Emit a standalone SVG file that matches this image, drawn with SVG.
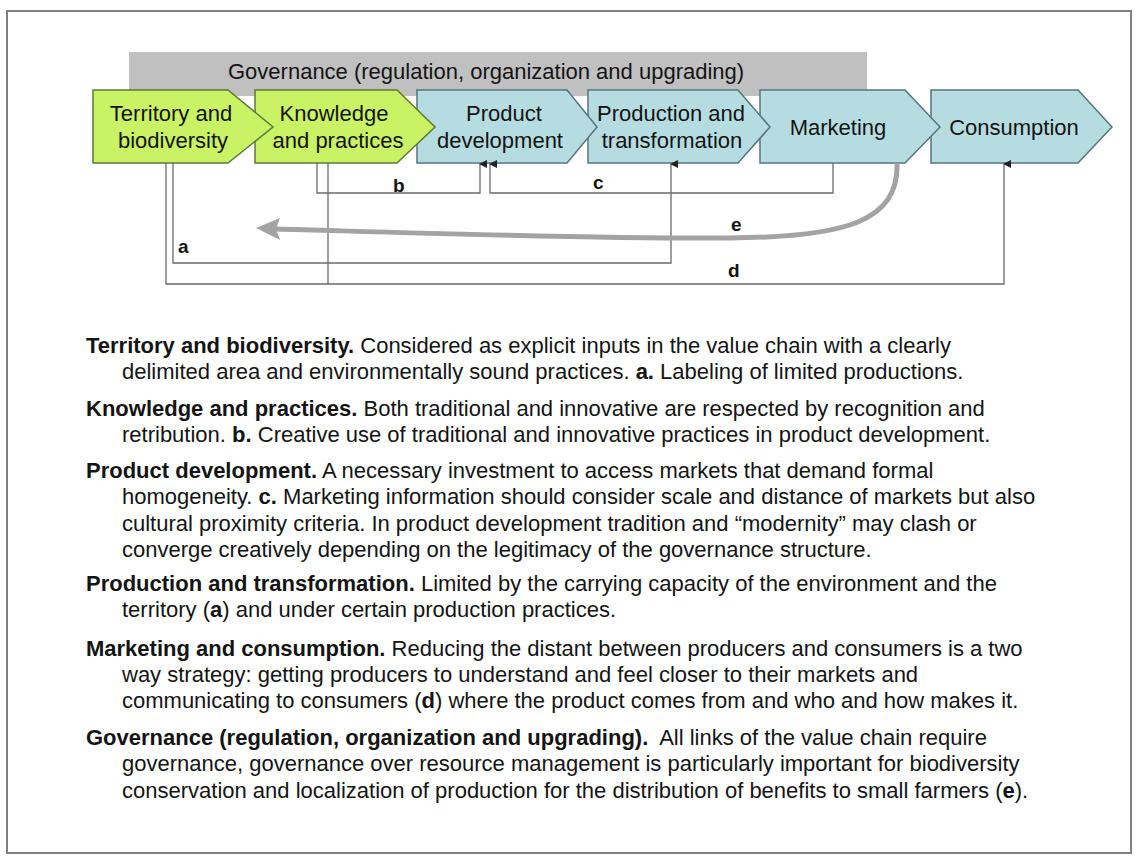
<svg xmlns="http://www.w3.org/2000/svg" width="1138" height="862" viewBox="0 0 1138 862">
<style>
text{font-family:"Liberation Sans",Arial,sans-serif;fill:#141414}
.box{font-size:22px;text-anchor:middle}
.g{fill:#c9f265;stroke:#5d7838;stroke-width:1.5}
.bl{fill:#b5dde1;stroke:#56757c;stroke-width:1.5}
.ln{fill:none;stroke:#6a6a6a;stroke-width:1.3}
.lbl{font-size:19px;font-weight:bold}
.p{font-size:22px}
.b{font-weight:bold}
</style>
<defs>
<marker id="ah" markerUnits="userSpaceOnUse" markerWidth="8" markerHeight="9" refX="4" refY="1" orient="auto-start-reverse" viewBox="0 0 8 9">
<path d="M4 0 L8 8 L0 8 Z" fill="#222"/>
</marker>
</defs>
<rect x="0" y="0" width="1138" height="862" fill="#fff"/>
<rect x="7" y="11" width="1124" height="842" fill="none" stroke="#7f7f7f" stroke-width="2"/>

<g id="governance-bar">
<rect x="129" y="52" width="738" height="44" fill="#c0c0c0"/>
<text x="228" y="79" style="font-size:22px">Governance (regulation, organization and upgrading)</text>
</g>

<g id="consumption">
<polygon class="bl" points="931,90 1078,90 1112,127 1078,163 931,163"/>
<text class="box" x="1014" y="135">Consumption</text>
</g>
<g id="marketing">
<polygon class="bl" points="760,90 905,90 940,127 905,163 760,163"/>
<text class="box" x="838" y="135">Marketing</text>
</g>
<g id="production">
<polygon class="bl" points="588,90 738,90 770,127 738,163 588,163"/>
<text class="box" x="671" y="121">Production and</text>
<text class="box" x="672" y="148">transformation</text>
</g>
<g id="product-development">
<polygon class="bl" points="417,90 567,90 597,127 567,163 417,163"/>
<text class="box" x="504" y="121">Product</text>
<text class="box" x="500" y="148">development</text>
</g>
<g id="knowledge">
<polygon class="g" points="255,90 397,90 435,127 397,163 255,163"/>
<text class="box" x="334" y="121">Knowledge</text>
<text class="box" x="338" y="148">and practices</text>
</g>
<g id="territory">
<polygon class="g" points="93,90 228,90 273,127 228,163 93,163"/>
<text class="box" x="171" y="121">Territory and</text>
<text class="box" x="173" y="148">biodiversity</text>
</g>

<g id="connectors">
<path class="ln" d="M173 163 V263 H671 V164" stroke="#8a8a8a" marker-end="url(#ah)"/>
<path class="ln" d="M166 163 V284 H1004 V164" marker-end="url(#ah)"/>
<path class="ln" d="M328 163 V284"/>
<path class="ln" d="M317 163 V193 H480 V164" marker-end="url(#ah)"/>
<path class="ln" d="M833 163 V193 H490 V164" marker-end="url(#ah)"/>
<path d="M897 163 C899 222 845 237 730 238 C600 239 420 233 276 229" fill="none" stroke="#a3a3a3" stroke-width="5"/>
<polygon points="256,228 280,218 276,229 280,240" fill="#a3a3a3"/>
<text class="lbl" x="178" y="253">a</text>
<text class="lbl" x="393" y="192">b</text>
<text class="lbl" x="593" y="189">c</text>
<text class="lbl" x="728" y="277">d</text>
<text class="lbl" x="731" y="231">e</text>
</g>

<g id="descriptions" class="p">
<text x="86" y="353"><tspan class="b">Territory and biodiversity.</tspan> Considered as explicit inputs in the value chain with a clearly</text>
<text x="122" y="379">delimited area and environmentally sound practices. <tspan class="b">a.</tspan> Labeling of limited productions.</text>
<text x="86" y="416"><tspan class="b">Knowledge and practices.</tspan> Both traditional and innovative are respected by recognition and</text>
<text x="122" y="442">retribution. <tspan class="b">b.</tspan> Creative use of traditional and innovative practices in product development.</text>
<text x="86" y="478"><tspan class="b">Product development.</tspan> A necessary investment to access markets that demand formal</text>
<text x="122" y="504">homogeneity. <tspan class="b">c.</tspan> Marketing information should consider scale and distance of markets but also</text>
<text x="122" y="531">cultural proximity criteria. In product development tradition and “modernity” may clash or</text>
<text x="122" y="557">converge creatively depending on the legitimacy of the governance structure.</text>
<text x="86" y="591"><tspan class="b">Production and transformation.</tspan> Limited by the carrying capacity of the environment and the</text>
<text x="122" y="617">territory (<tspan class="b">a</tspan>) and under certain production practices.</text>
<text x="86" y="656"><tspan class="b">Marketing and consumption.</tspan> Reducing the distant between producers and consumers is a two</text>
<text x="122" y="682">way strategy: getting producers to understand and feel closer to their markets and</text>
<text x="122" y="708">communicating to consumers (<tspan class="b">d</tspan>) where the product comes from and who and how makes it.</text>
<text x="86" y="745"><tspan class="b">Governance (regulation, organization and upgrading).</tspan><tspan dx="6"> All links of the value chain require</tspan></text>
<text x="122" y="771">governance, governance over resource management is particularly important for biodiversity</text>
<text x="122" y="798">conservation and localization of production for the distribution of benefits to small farmers (<tspan class="b">e</tspan>).</text>
</g>
</svg>
